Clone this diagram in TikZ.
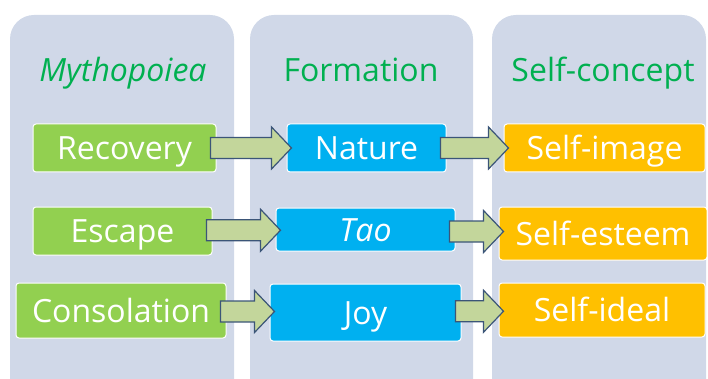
\documentclass[tikz,border=0pt]{standalone}
\usepackage{fontspec}
\setmainfont{Open Sans}
\usepackage{tikz}
\usetikzlibrary{calc}

\definecolor{panelgray}{HTML}{D0D8E8}
\definecolor{headgreen}{HTML}{00B050}
\definecolor{mythgreen}{HTML}{92D050}
\definecolor{formblue}{HTML}{00B0F0}
\definecolor{selforange}{HTML}{FFC000}
\definecolor{arrowfill}{HTML}{C3D69B}
\definecolor{arrowedge}{HTML}{3B5578}

% block arrow from the east side of #1 to the west side of #2
\newcommand\flow[2]{%
  \draw[flowarrow] let \p1=(#1.east), \p2=(#2.west), \p3=($(#1.east)!.5!(#2.west)$) in
    (\x1-6pt,\y3+10.5pt) -- (\x2-15pt,\y3+10.5pt) -- (\x2-15pt,\y3+21pt) -- (\x2+5pt,\y3)
    -- (\x2-15pt,\y3-21pt) -- (\x2-15pt,\y3-10.5pt) -- (\x1-6pt,\y3-10.5pt) -- cycle;}

\begin{document}
\begin{tikzpicture}[
  x=1pt, y=-1pt,
  font=\fontsize{32}{36}\selectfont,
  panel/.style={fill=panelgray, rounded corners=24pt},
  head/.style={text=headgreen, anchor=base, inner sep=0pt},
  box/.style={draw=white, line width=1pt, rounded corners=3pt, text=white,
              inner sep=0pt, text height=23pt, text depth=0pt},
  myth/.style={box, fill=mythgreen},
  form/.style={box, fill=formblue},
  self/.style={box, fill=selforange},
  flowarrow/.style={draw=arrowedge, fill=arrowfill, line width=1.2pt}
]
\useasboundingbox (0,0) rectangle (708,379);
\clip (0,0) rectangle (708,379);

% column panels
\fill[panel] (10,15) rectangle (234,430);
\fill[panel] (250,15) rectangle (473,430);
\fill[panel] (492,15) rectangle (706,430);

% headers
\node[head] (hmyth) at (123,82) {\textit{Mythopoiea}};
\node[head] (hform) at (361,82) {Formation};
\node[head] (hself) at (603,82) {Self-concept};

% Mythopoiea column
\node[myth, minimum width=183, minimum height=48] (rec) at (124.5,148) {Recovery};
\node[myth, minimum width=179, minimum height=48] (esc) at (122.5,231) {Escape};
\node[myth, minimum width=210, minimum height=55] (con) at (121,310.5) {Consolation};

% Formation column
\node[form, minimum width=159, minimum height=48] (nat) at (366.5,148) {Nature};
\node[form, minimum width=179, minimum height=43] (tao) at (365.5,229.5) {\textit{Tao}};
\node[form, minimum width=191, minimum height=57] (joy) at (365.5,312.5) {Joy};

% Self-concept column
\node[self, minimum width=201, minimum height=48] (img) at (604.5,148) {Self-image};
\node[self, minimum width=208, minimum height=53] (est) at (603,233.5) {Self-esteem};
\node[self, minimum width=206, minimum height=54] (ide) at (602,310) {Self-ideal};

% arrows
\flow{rec}{nat}
\flow{nat}{img}
\flow{esc}{tao}
\flow{tao}{est}
\flow{con}{joy}
\flow{joy}{ide}
\end{tikzpicture}
\end{document}
